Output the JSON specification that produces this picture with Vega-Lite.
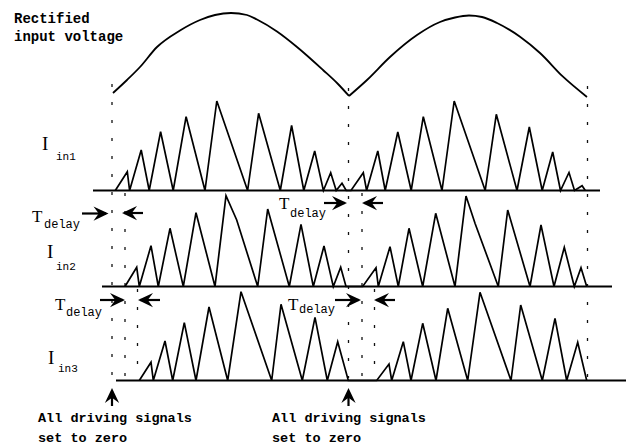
{
  "$schema": "https://vega.github.io/schema/vega-lite/v6.json",
  "width": 628,
  "height": 448,
  "autosize": {"type": "fit", "contains": "padding"},
  "padding": 0,
  "background": "white",
  "config": {"view": {"stroke": null}},
  "datasets": {
    "sine": [
      {"s":"h1","t":113,"v":93},{"s":"h1","t":127,"v":80},{"s":"h1","t":140,"v":67},{"s":"h1","t":157,"v":47},{"s":"h1","t":180,"v":30.5},{"s":"h1","t":200,"v":20},{"s":"h1","t":215,"v":15},{"s":"h1","t":231,"v":13},{"s":"h1","t":247,"v":15},{"s":"h1","t":257,"v":19.5},{"s":"h1","t":277,"v":31.5},{"s":"h1","t":297,"v":47},{"s":"h1","t":323,"v":70},{"s":"h1","t":338,"v":84},{"s":"h1","t":349,"v":96},
      {"s":"h2","t":349,"v":96},{"s":"h2","t":367,"v":80},{"s":"h2","t":390,"v":57},{"s":"h2","t":417,"v":35},{"s":"h2","t":440,"v":22},{"s":"h2","t":455,"v":17.5},{"s":"h2","t":469,"v":15.5},{"s":"h2","t":482,"v":17},{"s":"h2","t":497,"v":23},{"s":"h2","t":520,"v":36.7},{"s":"h2","t":540,"v":53},{"s":"h2","t":563,"v":76.7},{"s":"h2","t":587,"v":97}
    ],
    "currents": [
      {"s":"I1","t":115.3,"v":190.5},{"s":"I1","t":127.3,"v":171.7},{"s":"I1","t":129.6,"v":190.5},{"s":"I1","t":141.2,"v":150},{"s":"I1","t":149.2,"v":190.5},{"s":"I1","t":160.6,"v":131.7},{"s":"I1","t":173.2,"v":190.5},{"s":"I1","t":186.1,"v":116.7},{"s":"I1","t":205,"v":190.5},{"s":"I1","t":216.8,"v":101},{"s":"I1","t":247.6,"v":190.5},{"s":"I1","t":258.6,"v":113.3},{"s":"I1","t":280.3,"v":190.5},{"s":"I1","t":291.6,"v":125.5},{"s":"I1","t":303.8,"v":190.5},{"s":"I1","t":314.7,"v":151},{"s":"I1","t":323.4,"v":190.5},{"s":"I1","t":330.7,"v":172.7},{"s":"I1","t":336.2,"v":190.5},{"s":"I1","t":342,"v":183.3},{"s":"I1","t":346.2,"v":190.5},
      {"s":"I1","t":351,"v":190.5},{"s":"I1","t":363.3,"v":172.7},{"s":"I1","t":366.6,"v":190.5},{"s":"I1","t":377.8,"v":151},{"s":"I1","t":385.2,"v":190.5},{"s":"I1","t":397.8,"v":132},{"s":"I1","t":411.2,"v":190.5},{"s":"I1","t":423.3,"v":116.7},{"s":"I1","t":442,"v":190.5},{"s":"I1","t":454.2,"v":101},{"s":"I1","t":485.2,"v":190.5},{"s":"I1","t":496.3,"v":114.3},{"s":"I1","t":517,"v":190.5},{"s":"I1","t":529.3,"v":127},{"s":"I1","t":542.2,"v":190.5},{"s":"I1","t":552.7,"v":152},{"s":"I1","t":560.5,"v":190.5},{"s":"I1","t":569,"v":172.5},{"s":"I1","t":574.5,"v":190.5},{"s":"I1","t":582.1,"v":185.7},{"s":"I1","t":585.3,"v":190.5},
      {"s":"I2","t":125,"v":286.5},{"s":"I2","t":136.7,"v":267.3},{"s":"I2","t":139.3,"v":286.5},{"s":"I2","t":151,"v":245.7},{"s":"I2","t":158.3,"v":286.5},{"s":"I2","t":170,"v":228.3},{"s":"I2","t":183.3,"v":286.5},{"s":"I2","t":196,"v":212.7},{"s":"I2","t":215,"v":286.5},{"s":"I2","t":226,"v":195.7},{"s":"I2","t":236.7,"v":220},{"s":"I2","t":257.7,"v":286.5},{"s":"I2","t":267.7,"v":209},{"s":"I2","t":289.3,"v":286.5},{"s":"I2","t":301,"v":224.3},{"s":"I2","t":313.3,"v":286.5},{"s":"I2","t":324,"v":246},{"s":"I2","t":333.3,"v":286.5},{"s":"I2","t":340.7,"v":267.3},{"s":"I2","t":346,"v":286.5},
      {"s":"I2","t":362.7,"v":286.5},{"s":"I2","t":376,"v":267.7},{"s":"I2","t":378.3,"v":286.5},{"s":"I2","t":390,"v":246.7},{"s":"I2","t":398.3,"v":286.5},{"s":"I2","t":409,"v":228.3},{"s":"I2","t":422.7,"v":286.5},{"s":"I2","t":435.7,"v":213.3},{"s":"I2","t":455,"v":286.5},{"s":"I2","t":466,"v":196},{"s":"I2","t":475,"v":223.3},{"s":"I2","t":498.3,"v":286.5},{"s":"I2","t":507.7,"v":210},{"s":"I2","t":530,"v":286.5},{"s":"I2","t":541,"v":225},{"s":"I2","t":554,"v":286.5},{"s":"I2","t":564.3,"v":247.3},{"s":"I2","t":574.3,"v":286.5},{"s":"I2","t":581,"v":267.7},{"s":"I2","t":586.7,"v":286.5},
      {"s":"I3","t":139.3,"v":380.5},{"s":"I3","t":151,"v":362.3},{"s":"I3","t":153.3,"v":380.5},{"s":"I3","t":165,"v":341},{"s":"I3","t":172.7,"v":380.5},{"s":"I3","t":184.3,"v":322.7},{"s":"I3","t":196,"v":380.5},{"s":"I3","t":209,"v":307},{"s":"I3","t":227.7,"v":380.5},{"s":"I3","t":241,"v":291.7},{"s":"I3","t":271.7,"v":380.5},{"s":"I3","t":281,"v":304.3},{"s":"I3","t":302.3,"v":380.5},{"s":"I3","t":315,"v":317.3},{"s":"I3","t":327.3,"v":380.5},{"s":"I3","t":337.7,"v":341.7},{"s":"I3","t":348.3,"v":380.5},
      {"s":"I3","t":376.7,"v":380.5},{"s":"I3","t":389,"v":364},{"s":"I3","t":391.7,"v":380.5},{"s":"I3","t":403.3,"v":341.7},{"s":"I3","t":411,"v":380.5},{"s":"I3","t":422.7,"v":323.3},{"s":"I3","t":436,"v":380.5},{"s":"I3","t":447.7,"v":308.3},{"s":"I3","t":467.7,"v":380.5},{"s":"I3","t":480,"v":292.3},{"s":"I3","t":511,"v":380.5},{"s":"I3","t":520.7,"v":305},{"s":"I3","t":542.3,"v":380.5},{"s":"I3","t":555,"v":318.3},{"s":"I3","t":566.7,"v":380.5},{"s":"I3","t":577.7,"v":342.3},{"s":"I3","t":586.7,"v":380.5}
    ],
    "baselines": [
      {"t":93,"t2":600,"v":190.5},{"t":102,"t2":612,"v":286.5},{"t":116,"t2":626,"v":380.5}
    ],
    "dashed": [
      {"t":112,"v":84,"v2":378},{"t":125,"v":193,"v2":378},{"t":137.5,"v":289,"v2":378},{"t":348.5,"v":88,"v2":378},{"t":362,"v":193,"v2":378},{"t":374.5,"v":289,"v2":378},{"t":587.5,"v":86,"v2":378}
    ],
    "hshafts": [
      {"t":82,"t2":106,"v":213.5},{"t":143,"t2":124,"v":213},{"t":324,"t2":345,"v":203},{"t":383,"t2":364,"v":203},{"t":100,"t2":123,"v":300},{"t":160,"t2":140,"v":300},{"t":335,"t2":359,"v":300},{"t":395,"t2":376,"v":300}
    ],
    "vshafts": [
      {"t":112,"v":391,"v2":406},{"t":348.5,"v":391,"v2":406}
    ],
    "heads": [
      {"t":108.5,"v":213.5,"dir":"right"},{"t":122,"v":213,"dir":"left"},{"t":347,"v":203,"dir":"right"},{"t":362,"v":203,"dir":"left"},{"t":125,"v":300,"dir":"right"},{"t":138,"v":300,"dir":"left"},{"t":361,"v":300,"dir":"right"},{"t":374,"v":300,"dir":"left"},{"t":112,"v":388,"dir":"up"},{"t":348.5,"v":388,"dir":"up"}
    ],
    "toplabels": [
      {"t":14,"v":23,"txt":"Rectified"},{"t":14,"v":41,"txt":"input voltage"}
    ],
    "bottomlabels": [
      {"t":38,"v":421.5,"txt":"All driving signals"},{"t":38,"v":441.5,"txt":"set to zero"},{"t":272,"v":421.5,"txt":"All driving signals"},{"t":272,"v":441.5,"txt":"set to zero"}
    ],
    "bigI": [
      {"t":42,"v":150,"txt":"I"},{"t":47,"v":258,"txt":"I"},{"t":48,"v":363.5,"txt":"I"}
    ],
    "insub": [
      {"t":56,"v":160,"txt":"in1"},{"t":56,"v":270,"txt":"in2"},{"t":58,"v":371.5,"txt":"in3"}
    ],
    "bigT": [
      {"t":32,"v":221.5,"txt":"T"},{"t":279,"v":208.5,"txt":"T"},{"t":55,"v":310,"txt":"T"},{"t":288,"v":310,"txt":"T"}
    ],
    "delaysub": [
      {"t":44,"v":228,"txt":"delay"},{"t":290,"v":216.5,"txt":"delay"},{"t":66,"v":316,"txt":"delay"},{"t":299,"v":313,"txt":"delay"}
    ]
  },
  "layer": [
    {
      "data": {"name": "baselines"},
      "mark": {"type": "rule", "color": "#000", "strokeWidth": 2},
      "encoding": {
        "x": {"field": "t", "type": "quantitative", "scale": {"domain": [0, 628], "nice": false, "zero": false}, "axis": null},
        "x2": {"field": "t2"},
        "y": {"field": "v", "type": "quantitative", "scale": {"domain": [0, 448], "nice": false, "zero": false, "reverse": true}, "axis": null}
      }
    },
    {
      "data": {"name": "dashed"},
      "mark": {"type": "rule", "color": "#111", "strokeWidth": 1.3, "strokeDash": [3, 15]},
      "encoding": {
        "x": {"field": "t", "type": "quantitative"},
        "y": {"field": "v", "type": "quantitative"},
        "y2": {"field": "v2"}
      }
    },
    {
      "data": {"name": "sine"},
      "mark": {"type": "line", "color": "#000", "strokeWidth": 1.8, "interpolate": "monotone"},
      "encoding": {
        "x": {"field": "t", "type": "quantitative"},
        "y": {"field": "v", "type": "quantitative"},
        "detail": {"field": "s"}
      }
    },
    {
      "data": {"name": "currents"},
      "mark": {"type": "line", "color": "#000", "strokeWidth": 1.7},
      "encoding": {
        "x": {"field": "t", "type": "quantitative"},
        "y": {"field": "v", "type": "quantitative"},
        "detail": {"field": "s"}
      }
    },
    {
      "data": {"name": "hshafts"},
      "mark": {"type": "rule", "color": "#000", "strokeWidth": 2.2},
      "encoding": {
        "x": {"field": "t", "type": "quantitative"},
        "x2": {"field": "t2"},
        "y": {"field": "v", "type": "quantitative"}
      }
    },
    {
      "data": {"name": "vshafts"},
      "mark": {"type": "rule", "color": "#000", "strokeWidth": 2.2},
      "encoding": {
        "x": {"field": "t", "type": "quantitative"},
        "y": {"field": "v", "type": "quantitative"},
        "y2": {"field": "v2"}
      }
    },
    {
      "data": {"name": "heads"},
      "mark": {"type": "point", "filled": true, "color": "#000", "opacity": 1, "size": 225, "strokeWidth": 0},
      "encoding": {
        "x": {"field": "t", "type": "quantitative"},
        "y": {"field": "v", "type": "quantitative"},
        "shape": {
          "field": "dir", "type": "nominal", "legend": null,
          "scale": {"domain": ["right", "left", "up"], "range": ["M0,0L-2,-0.95L-1.3,0L-2,0.95Z", "M0,0L2,-0.95L1.3,0L2,0.95Z", "M0,0L-0.95,2L0,1.3L0.95,2Z"]}
        }
      }
    },
    {
      "data": {"name": "toplabels"},
      "mark": {"type": "text", "font": "Liberation Mono", "fontSize": 14, "fontWeight": "bold", "align": "left", "baseline": "alphabetic", "color": "#000"},
      "encoding": {
        "x": {"field": "t", "type": "quantitative"},
        "y": {"field": "v", "type": "quantitative"},
        "text": {"field": "txt"}
      }
    },
    {
      "data": {"name": "bottomlabels"},
      "mark": {"type": "text", "font": "Liberation Mono", "fontSize": 13.5, "fontWeight": "bold", "align": "left", "baseline": "alphabetic", "color": "#000"},
      "encoding": {
        "x": {"field": "t", "type": "quantitative"},
        "y": {"field": "v", "type": "quantitative"},
        "text": {"field": "txt"}
      }
    },
    {
      "data": {"name": "bigI"},
      "mark": {"type": "text", "font": "Liberation Serif", "fontSize": 19, "align": "left", "baseline": "alphabetic", "color": "#000"},
      "encoding": {
        "x": {"field": "t", "type": "quantitative"},
        "y": {"field": "v", "type": "quantitative"},
        "text": {"field": "txt"}
      }
    },
    {
      "data": {"name": "insub"},
      "mark": {"type": "text", "font": "Liberation Mono", "fontSize": 11, "align": "left", "baseline": "alphabetic", "color": "#000"},
      "encoding": {
        "x": {"field": "t", "type": "quantitative"},
        "y": {"field": "v", "type": "quantitative"},
        "text": {"field": "txt"}
      }
    },
    {
      "data": {"name": "bigT"},
      "mark": {"type": "text", "font": "Liberation Serif", "fontSize": 17, "align": "left", "baseline": "alphabetic", "color": "#000"},
      "encoding": {
        "x": {"field": "t", "type": "quantitative"},
        "y": {"field": "v", "type": "quantitative"},
        "text": {"field": "txt"}
      }
    },
    {
      "data": {"name": "delaysub"},
      "mark": {"type": "text", "font": "Liberation Mono", "fontSize": 12, "align": "left", "baseline": "alphabetic", "color": "#000"},
      "encoding": {
        "x": {"field": "t", "type": "quantitative"},
        "y": {"field": "v", "type": "quantitative"},
        "text": {"field": "txt"}
      }
    }
  ]
}
